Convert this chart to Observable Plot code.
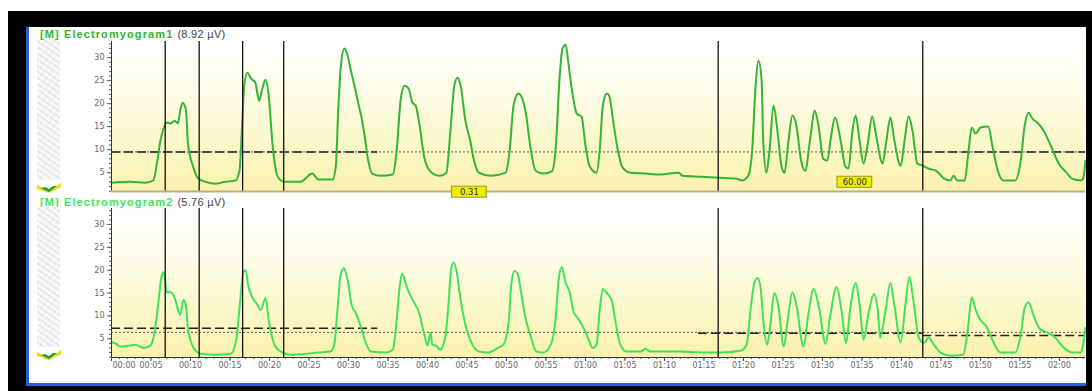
<!DOCTYPE html>
<html><head><meta charset="utf-8">
<script src="https://cdn.jsdelivr.net/npm/d3@7"></script>
<script src="https://cdn.jsdelivr.net/npm/@observablehq/plot@0.6"></script>
<style>
body{margin:0;width:1092px;height:391px;background:#fff;position:relative;overflow:hidden;font-family:"Liberation Sans",Arial,sans-serif}
.abs{position:absolute}
.title{position:absolute;font-size:11px;white-space:nowrap;line-height:12px}
.title b{letter-spacing:1.1px}
.title span{color:#444;margin-left:4px;letter-spacing:0.3px}
.side{position:absolute;left:37px;width:23px;background:#efefef;
 background-image:repeating-linear-gradient(35deg,rgba(255,255,255,0.6) 0 3px,rgba(215,215,215,0.25) 3px 5px),
 repeating-linear-gradient(-50deg,rgba(255,255,255,0.4) 0 2px,rgba(220,220,220,0.2) 2px 6px);}
</style></head><body>
<script>
// ---------- data ----------
const emg1Time = [0,2.4,4.3,5.3,5.8,6.2,6.6,7.0,7.5,8.0,8.4,8.7,9.0,9.4,9.7,10.3,10.9,11.9,13.2,14.4,15.7,16.2,16.5,16.8,17.2,17.7,18.2,18.7,19.1,19.5,19.9,20.4,21.0,21.8,23.9,25.4,26.2,28.0,28.4,28.7,29.1,29.5,29.9,30.3,30.9,31.3,31.6,32.0,32.5,33.0,34.1,35.6,36.1,36.6,37.1,37.6,38.1,38.5,39.0,39.6,40.4,41.6,42.4,42.9,43.4,43.8,44.2,44.8,45.4,45.9,46.5,48.0,49.9,50.4,50.9,51.5,52.0,52.5,53.0,53.7,54.7,55.8,56.3,56.7,57.1,57.5,57.8,58.4,58.9,59.5,60.0,60.5,61.4,61.8,62.2,62.7,63.0,63.5,64.1,64.7,65.7,67.6,69.5,71.8,72.3,74.6,76.8,79.0,79.9,80.6,81.1,81.5,81.9,82.3,82.5,82.9,83.3,83.8,84.3,84.8,85.2,85.7,86.2,86.7,87.3,87.8,88.5,89.0,89.5,90.1,90.6,91.1,91.6,92.3,92.9,93.3,93.8,94.2,94.7,95.2,95.7,96.3,96.8,97.6,98.1,98.6,99.1,99.9,100.4,100.9,101.4,102.0,102.7,103.4,104.4,105.4,106.2,106.6,107.1,108.0,108.5,108.9,109.4,110.0,111.0,111.5,112.2,112.9,114.4,115.1,115.6,116.1,116.6,117.2,118.0,118.9,119.9,120.9,121.6,122.7,123.0,123.3];
const emg1Value = [2.8,3.0,2.8,3.3,7.6,12.0,14.6,15.9,15.7,16.3,15.7,18.5,20.2,18.9,10.9,6.5,3.9,3.0,2.6,3.0,3.3,5.4,14.1,23.9,26.7,25.4,24.6,20.6,23.3,25.2,21.7,10.9,4.3,3.0,3.0,4.8,3.5,3.5,6.5,18.5,29.3,32.0,30.4,27.2,22.8,19.6,17.4,13.5,7.6,4.8,4.3,4.6,9.8,20.7,23.9,23.3,20.2,19.6,15.2,8.3,5.2,4.3,5.0,14.1,23.9,25.6,23.9,16.3,12.0,7.6,5.0,4.3,5.0,9.8,19.6,22.2,21.1,17.4,10.9,5.4,4.8,5.4,12.0,25.0,32.0,32.8,29.3,21.7,17.8,17.2,10.9,6.5,5.0,9.8,19.6,22.2,21.7,16.3,9.8,6.1,5.0,4.8,4.6,5.0,4.3,4.1,3.9,3.7,3.3,4.3,9.8,22.8,29.3,25.0,12.0,5.0,9.8,19.6,14.1,6.5,5.0,12.0,17.4,15.2,7.6,5.4,13.0,18.5,15.2,8.0,7.6,13.0,17.0,12.0,6.3,5.9,14.1,17.4,12.0,7.0,10.9,17.2,13.0,7.0,12.0,17.0,12.0,6.5,12.0,17.2,14.1,7.0,6.5,5.9,5.4,3.7,3.3,4.3,3.3,3.3,9.8,14.8,13.5,14.8,15.0,10.9,5.4,3.3,3.3,7.6,15.2,18.0,16.7,15.9,14.1,10.9,7.0,5.0,3.7,3.3,3.7,7.6];

const emg2Time = [0,0.6,1.1,2.2,3.0,4.1,4.9,5.4,5.9,6.3,6.6,7.0,7.5,8.0,8.5,8.7,9.1,9.4,9.7,10.4,11.3,13.2,15.1,15.8,16.3,16.7,17.0,17.3,17.8,18.4,18.9,19.5,19.9,20.5,21.1,22.7,24.6,26.2,27.7,28.2,28.6,29.0,29.4,29.9,30.4,30.9,31.5,32.2,32.8,34.7,35.6,36.1,36.5,36.8,37.3,38.1,38.9,39.6,40.0,40.4,40.6,41.1,41.6,42.3,42.7,43.0,43.3,43.7,44.2,44.8,45.4,46.5,47.7,48.9,49.6,50.3,50.6,51.0,51.4,51.9,52.4,53.0,53.8,54.7,55.6,56.2,56.6,57.0,57.5,58.0,58.5,59.0,59.7,60.4,60.9,61.4,61.8,62.2,62.7,63.3,63.8,64.4,65.2,67.0,67.6,68.2,72.0,74.6,77.1,79.6,80.4,80.9,81.4,81.8,82.2,82.5,83.0,83.4,83.9,84.4,85.1,85.6,86.2,86.7,87.6,88.2,88.9,89.5,90.4,91.0,91.8,92.4,93.0,93.5,94.2,94.7,95.2,95.8,96.5,97.0,97.3,98.0,98.6,99.1,99.9,100.5,101.0,101.5,102.2,102.9,103.4,104.2,104.9,106.2,107.8,108.4,108.9,109.4,110.0,110.8,111.5,112.5,114.4,115.1,115.6,116.1,116.7,117.6,118.6,119.5,120.4,121.6,122.7,123.0,123.3];
const emg2Value = [4.3,3.9,3.3,3.5,3.7,3.0,3.5,5.9,12.4,18.3,19.6,15.2,15.2,13.9,10.9,10.2,13.5,12.4,7.0,3.0,1.7,1.5,1.7,4.8,13.5,19.6,20.0,16.7,14.1,12.6,11.3,13.9,9.1,4.3,2.6,1.5,1.7,2.0,2.2,3.7,11.3,18.9,20.4,17.8,12.4,10.7,8.0,4.1,2.2,2.0,2.6,9.1,16.7,19.3,16.7,13.5,10.9,5.9,3.5,6.3,3.7,3.5,2.6,5.9,13.5,20.4,21.7,19.6,13.5,8.0,4.8,2.2,2.0,3.0,3.7,9.1,16.7,19.8,19.3,14.6,9.6,5.9,2.2,2.0,3.7,9.1,17.8,20.7,17.2,15.2,10.9,9.6,7.6,4.8,3.0,3.7,11.3,15.9,15.0,13.5,8.7,3.7,2.2,2.2,2.8,2.2,2.2,2.0,2.0,2.4,3.7,11.3,17.4,18.3,15.7,9.1,3.7,8.0,15.0,12.4,3.3,9.1,15.2,12.4,3.3,10.2,15.9,12.4,3.9,10.2,16.3,11.3,4.1,11.3,17.2,12.4,4.8,10.2,14.8,11.3,5.2,11.3,17.2,12.4,4.3,12.4,18.5,13.5,5.2,4.1,5.2,3.5,2.0,1.3,1.5,7.0,14.1,11.3,9.1,7.6,4.8,2.0,2.0,5.9,11.7,13.0,10.2,7.0,6.3,5.2,3.3,2.0,2.0,3.7,7.4];

const cursorTimes = [6.8, 11.1, 16.6, 21.8, 76.8, 102.7];
const yTickValues = [5, 10, 15, 20, 25, 30];
const xTickSeconds = [0,5,10,15,20,25,30,35,40,45,50,55,60,65,70,75,80,85,90,95,100,105,110,115,120];
const panelNames = ["[M] Electromyogram1", "[M] Electromyogram2"];
const panelRms = ["(8.92 µV)", "(5.76 µV)"];
const emg1Threshold = 9.5;
const emg1SegStart = [0, 102.7], emg1SegEnd = [33.7, 123.3], emg1SegLevel = [9.5, 9.5];
const emg2Threshold = 6.4;
const emg2SegStart = [0, 74.3, 102.7], emg2SegEnd = [33.7, 102.7, 123.3], emg2SegLevel = [7.3, 6.2, 5.7];
const markerText = ["0.31", "60.00"], markerTime = [45.3, 94.1], markerLevel = [0.75, 2.9];

// ---------- layout helpers ----------
const X_DOMAIN = [0, 123.3], Y_DOMAIN = [0.9, 33.5];
const fmt = s => String(Math.floor(s / 60)).padStart(2, "0") + ":" + String(s % 60).padStart(2, "0");

function addDiv(css, cls, html) {
  const d = document.createElement("div");
  d.className = cls || "abs";
  d.style.cssText = css;
  if (html) d.innerHTML = html;
  document.body.appendChild(d);
  return d;
}

// plot area backgrounds (gradient)
const grad = "linear-gradient(to bottom,#ffffff 0%,#fefce4 40%,#fcf6c2 78%,#fbf1ae 100%)";
addDiv(`left:111px;top:41px;width:974px;height:150px;background:${grad}`);
addDiv(`left:111px;top:208px;width:974px;height:149px;background:${grad}`);

function panel({time, value, color, segStart, segEnd, segLevel, threshold, showX, height, marginTop, marginBottom, top, markers}) {
  const pts = time.map((t, i) => ({t, v: value[i]}));
  const segs = segStart.map((x1, i) => ({x1, x2: segEnd[i], y: segLevel[i]}));
  const marks = [
    Plot.ruleY([threshold], {stroke: "#555", strokeWidth: 1, strokeDasharray: "2,2"}),
    Plot.ruleY(segs, {x1: "x1", x2: "x2", y: "y", stroke: "#222", strokeWidth: 1.6, strokeDasharray: "9,4"}),
    Plot.line(pts, {x: "t", y: "v", stroke: color, strokeWidth: 2, curve: "monotone-x"}),
    Plot.ruleX(cursorTimes, {stroke: "#111", strokeWidth: 1.3}),
    Plot.ruleX([0], {stroke: "#333", strokeWidth: 1}),
    Plot.ruleY([Y_DOMAIN[0]], {stroke: showX ? "#333" : "#b8b08a", strokeWidth: showX ? 1 : 2}),
    Plot.axisY(d3.range(1, 34), {tickSize: 2, tickFormat: () => "", color: "#555"}),
    Plot.axisY(yTickValues, {tickSize: 4, tickPadding: 3, fontSize: 8, color: "#666"})
  ];
  if (showX) {
    marks.push(
      Plot.axisX(d3.range(0, 124, 1), {tickSize: 2, tickFormat: () => "", color: "#444"}),
      Plot.axisX(xTickSeconds, {tickSize: 4, tickFormat: () => "", color: "#444"}),
      Plot.text(xTickSeconds.filter(s => s > 0), {x: d => d, text: fmt, frameAnchor: "bottom", dy: 10, fontSize: 8, fill: "#666"}),
      Plot.text(xTickSeconds.filter(s => s === 0), {x: d => d, text: fmt, frameAnchor: "bottom", dy: 10, fontSize: 8, fill: "#666", textAnchor: "start", dx: 1})
    );
  }
  if (markers) {
    const m = markerText.map((label, i) => ({label, t: markerTime[i], v: markerLevel[i]}));
    marks.push(
      Plot.rect(m, {x1: d => d.t - 2.2, x2: d => d.t + 2.2, y1: d => d.v - 1.2, y2: d => d.v + 1.2, fill: "#eded00", stroke: "#9a9a20", strokeWidth: 1}),
      Plot.text(m, {x: "t", y: "v", text: "label", fontSize: 8.5, fill: "#333"})
    );
  }
  const svg = Plot.plot({
    width: 1032, height, marginLeft: 51, marginRight: 7, marginTop, marginBottom,
    x: {domain: X_DOMAIN, axis: null},
    y: {domain: Y_DOMAIN, axis: null},
    style: {background: "transparent", fontFamily: "DejaVu Sans, sans-serif", overflow: "visible"},
    marks
  });
  const wrap = addDiv(`left:60px;top:${top}px;width:1032px;height:${height}px`);
  wrap.appendChild(svg);
}

panel({time: emg1Time, value: emg1Value, color: "#33b533", segStart: emg1SegStart, segEnd: emg1SegEnd, segLevel: emg1SegLevel,
  threshold: emg1Threshold, showX: false, height: 170, marginTop: 11, marginBottom: 9, top: 30, markers: true});
panel({time: emg2Time, value: emg2Value, color: "#3fe358", segStart: emg2SegStart, segEnd: emg2SegEnd, segLevel: emg2SegLevel,
  threshold: emg2Threshold, showX: true, height: 185, marginTop: 8, marginBottom: 28, top: 200, markers: false});

// titles
addDiv("left:40px;top:28px", "title", `<b style="color:#2fb52f">${panelNames[0]}</b><span>${panelRms[0]}</span>`);
addDiv("left:40px;top:196px", "title", `<b style="color:#3fe358">${panelNames[1]}</b><span>${panelRms[1]}</span>`);

// side strips
addDiv("top:40px;height:140px", "side");
addDiv("top:207px;height:140px", "side");
const icon = `<svg width="24" height="10"><polygon points="0,2 12,8 24,0 24,4 12,10 0,6" fill="#e8e000"/><polygon points="4,5 12,9 20,3 16,3 12,6 8,4" fill="#2a9a40"/></svg>`;
addDiv("left:37px;top:179px;width:24px;height:10px", "abs", icon);
addDiv("left:37px;top:346px;width:24px;height:10px", "abs", icon);

// window chrome
addDiv("left:8px;top:11px;width:1084px;height:16px;background:#000");
addDiv("left:8px;top:11px;width:18px;height:380px;background:#000");
addDiv("left:1086px;top:11px;width:6px;height:380px;background:#000");
addDiv("left:8px;top:386px;width:1084px;height:5px;background:#000");
addDiv("left:26px;top:27px;width:3px;height:359px;background:#2a5bd8");
addDiv("left:26px;top:383px;width:1060px;height:3px;background:#2a5bd8");
</script>
</body></html>
